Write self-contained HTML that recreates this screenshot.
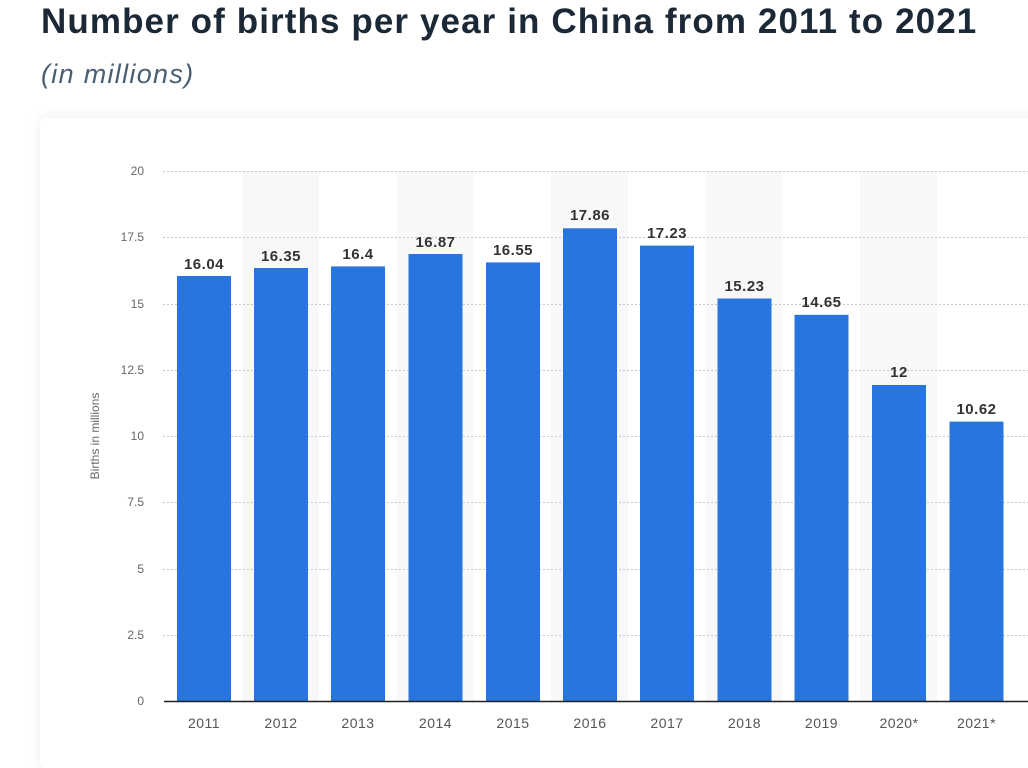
<!DOCTYPE html>
<html><head><meta charset="utf-8"><style>
body{margin:0;width:1028px;height:745px;overflow:hidden;background:#fff;font-family:"Liberation Sans",sans-serif;}
h1{position:absolute;left:41px;top:0;margin:0;font-size:35px;font-weight:bold;color:#1b2836;line-height:44px;letter-spacing:1.1px}
h2{position:absolute;left:41px;top:56px;margin:0;font-size:27px;font-style:italic;font-weight:normal;color:#4a5e72;line-height:36px;letter-spacing:1.3px}
.card{position:absolute;left:40px;top:118px;width:1000px;height:650px;background:#fff;border-radius:6px;box-shadow:0 0 14px rgba(0,0,0,0.08)}
svg{position:absolute;left:0;top:0}
</style></head><body>
<h1>Number of births per year in China from 2011 to 2021</h1>
<h2>(in millions)</h2>
<div class="card"></div>
<svg width="1028" height="745" font-family="Liberation Sans, sans-serif">
<g fill="#f8f8f8">
<rect x="242" y="171" width="77" height="530"/>
<rect x="396.5" y="171" width="77" height="530"/>
<rect x="551" y="171" width="77" height="530"/>
<rect x="705.5" y="171" width="77" height="530"/>
<rect x="860" y="171" width="77" height="530"/>
</g>
<g stroke="#c8c8c8" stroke-dasharray="2,2" stroke-width="1">
<line x1="163" x2="1028" y1="171.5" y2="171.5"/><line x1="163" x2="1028" y1="237.5" y2="237.5"/>
<line x1="163" x2="1028" y1="304.5" y2="304.5"/><line x1="163" x2="1028" y1="370.5" y2="370.5"/>
<line x1="163" x2="1028" y1="436.5" y2="436.5"/><line x1="163" x2="1028" y1="502.5" y2="502.5"/>
<line x1="163" x2="1028" y1="569.5" y2="569.5"/><line x1="163" x2="1028" y1="635.5" y2="635.5"/>
</g>
<g font-size="12" fill="#666" text-anchor="end">
<text x="144" y="175">20</text><text x="144" y="241">17.5</text><text x="144" y="308">15</text>
<text x="144" y="374">12.5</text><text x="144" y="440">10</text><text x="144" y="506">7.5</text>
<text x="144" y="573">5</text><text x="144" y="639">2.5</text><text x="144" y="705">0</text>
</g>
<text transform="translate(99,436) rotate(-90)" font-size="12" fill="#666" text-anchor="middle">Births in millions</text>
<g fill="#2876dd">
<rect x="177" y="276" width="54" height="425"/>
<rect x="254" y="268" width="54" height="433"/>
<rect x="331" y="266.4" width="54" height="434.6"/>
<rect x="408.5" y="254" width="54" height="447"/>
<rect x="486" y="262.4" width="54" height="438.6"/>
<rect x="563" y="228.3" width="54" height="472.7"/>
<rect x="640" y="245.6" width="54" height="455.4"/>
<rect x="717.5" y="298.5" width="54" height="402.5"/>
<rect x="794.5" y="314.8" width="54" height="386.2"/>
<rect x="872" y="385" width="54" height="316"/>
<rect x="949.5" y="421.6" width="54" height="279.4"/>
</g>
<line x1="164" x2="1028" y1="701.5" y2="701.5" stroke="#222" stroke-width="1.5"/>
<g font-size="15" font-weight="bold" fill="#333" text-anchor="middle" letter-spacing="0.5">
<text x="204" y="269">16.04</text><text x="281" y="261">16.35</text><text x="358" y="259">16.4</text>
<text x="435.5" y="247">16.87</text><text x="513" y="255">16.55</text><text x="590" y="220">17.86</text>
<text x="667" y="238">17.23</text><text x="744.5" y="291">15.23</text><text x="821.5" y="307">14.65</text>
<text x="899" y="377">12</text><text x="976.5" y="414">10.62</text>
</g>
<g font-size="14" fill="#555" text-anchor="middle" letter-spacing="0.5">
<text x="204" y="728">2011</text><text x="281" y="728">2012</text><text x="358" y="728">2013</text>
<text x="435.5" y="728">2014</text><text x="513" y="728">2015</text><text x="590" y="728">2016</text>
<text x="667" y="728">2017</text><text x="744.5" y="728">2018</text><text x="821.5" y="728">2019</text>
<text x="899" y="728">2020*</text><text x="976.5" y="728">2021*</text>
</g>
</svg>
</body></html>
